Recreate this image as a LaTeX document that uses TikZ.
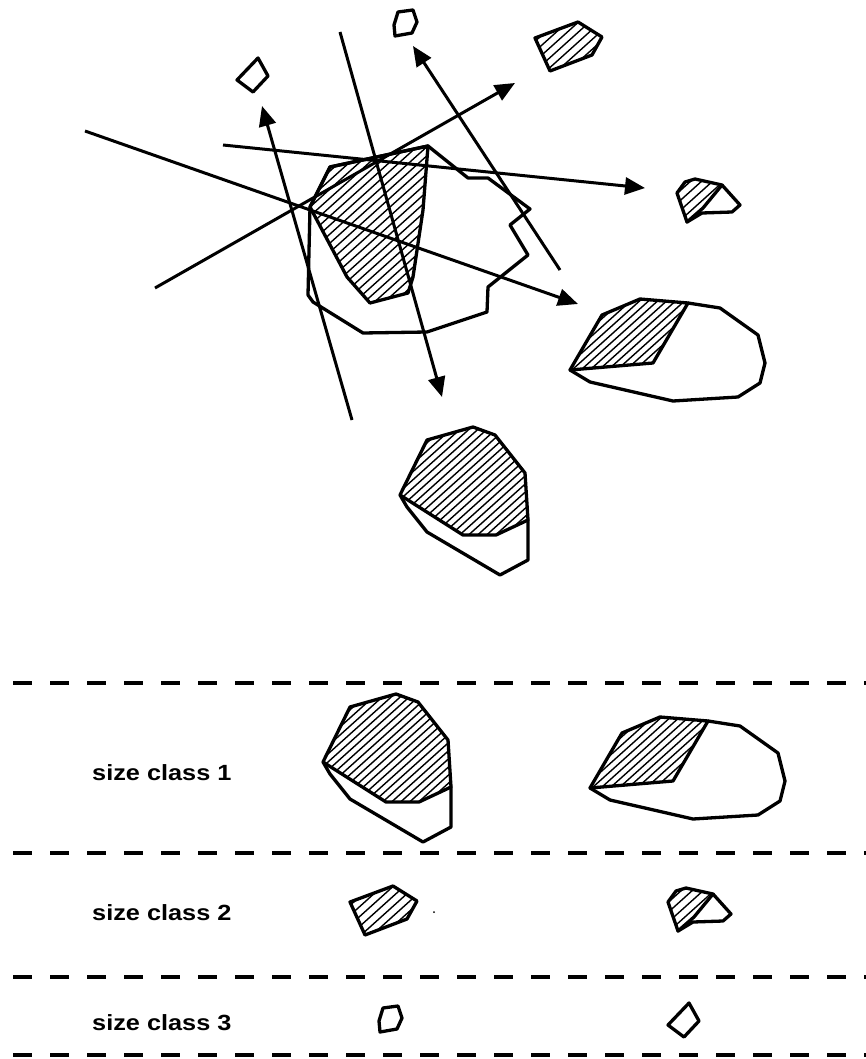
\documentclass[tikz,border=0pt]{standalone}
\usepackage{fontspec}
\usepackage{graphicx}
\setsansfont{Liberation Sans}
\usetikzlibrary{arrows.meta}
\tikzset{
  outline/.style={line width=3.3pt, line join=round, line cap=round},
  arrowline/.style={line width=3pt, -{Triangle[length=20pt,width=17pt]}},
  hatchline/.style={line width=1.4pt},
  divider/.style={line width=3.6pt, dash pattern=on 18.5pt off 18.5pt},
  classlabel/.style={anchor=base west, inner sep=0pt, font=\sffamily\bfseries\fontsize{22}{24}\selectfont}
}
% hatching of a closed polygon: #1 polygon path, #2 first, #3 second, #4 last offset
\newcommand\hatchin[4]{%
  \begin{scope}
    \clip #1;
    \foreach \c in {#2,#3,...,#4}{\draw[hatchline] (\c-1250,1125) -- (\c+60,-54);}
  \end{scope}}
% shapes
\newcommand\polyHP{(400,495) -- (427,440) -- (473,427) -- (495,435) -- (525,473) -- (528,520) -- (496,535) -- (463,535) -- cycle}
\newcommand\shapeP{%
  \hatchin{\polyHP}{874}{883}{1125}
  \draw[outline] \polyHP;
  \draw[outline] (400,495) -- (407,507) -- (427,532) -- (500,575) -- (528,560) -- (528,520);}
\newcommand\polyHQ{(570,370) -- (602,315) -- (640,299) -- (688,303) -- (653,363) -- cycle}
\newcommand\shapeQ{%
  \hatchin{\polyHQ}{902}{911}{1100}
  \draw[outline] \polyHQ;
  \draw[outline] (688,303) -- (720,308) -- (758,335) -- (765,363) -- (760,383) -- (738,397) -- (673,401) -- (590,382) -- (570,370);}
\newcommand\polyFiii{(535,38) -- (578,22) -- (602,37) -- (592,55) -- (550,71) -- cycle}
\newcommand\shapeFiii{%
  \hatchin{\polyFiii}{559}{570}{690}
  \draw[outline] \polyFiii;}
\newcommand\polyFiv{(677,193) -- (685,182) -- (695,179) -- (722,185) -- (703,208) -- (687,222) -- cycle}
\newcommand\shapeFiv{%
  \hatchin{\polyFiv}{870}{881}{980}
  \draw[outline] \polyFiv;
  \draw[outline] (722,185) -- (740,205) -- (732,212) -- (702,213) -- (687,222);}
\newcommand\shapeFii{\draw[outline] (398,12) -- (413,10) -- (417,22) -- (412,33) -- (395,36) -- (394,25) -- cycle;}
\newcommand\shapeFi{\draw[outline] (237,80) -- (258,58) -- (268,76) -- (253,92) -- cycle;}
\newcommand\polyHO{(330,167) -- (428,146) -- (423,210) -- (413,277) -- (408,293) -- (370,303) -- (347,277) -- (310,207) -- cycle}
\begin{document}
\begin{tikzpicture}[x=1pt,y=-1pt]
\useasboundingbox (0,0) rectangle (866,1059);
\fill[white] (0,0) rectangle (866,1059);

% central particle
\hatchin{\polyHO}{470}{480}{770}
\draw[outline] \polyHO;
\draw[outline] (310,207) -- (330,167) -- (428,146) -- (468,178) -- (488,178) -- (530,209) -- (510,225) -- (528,255) -- (488,287) -- (487,312) -- (427,332) -- (363,333) -- (313,302) -- (308,295) -- cycle;

% fracture lines and fragment trajectories
\coordinate (l1s) at (85,131);  \coordinate (l1e) at (578,304);
\coordinate (l2s) at (155,288); \coordinate (l2e) at (515,83);
\coordinate (l3s) at (223,145); \coordinate (l3e) at (645,188);
\coordinate (l4s) at (340,32);  \coordinate (l4e) at (442,397);
\coordinate (l5s) at (352,420); \coordinate (l5e) at (262,106);
\coordinate (l6s) at (560,270); \coordinate (l6e) at (413,46);
\draw[arrowline] (l1s) -- (l1e);
\draw[arrowline] (l2s) -- (l2e);
\draw[arrowline] (l3s) -- (l3e);
\draw[arrowline] (l4s) -- (l4e);
\draw[arrowline] (l5s) -- (l5e);
\draw[arrowline] (l6s) -- (l6e);

% fragments in the upper part
\shapeFi
\shapeFii
\shapeFiii
\shapeFiv
\shapeQ
\shapeP

% classification rows
\draw[divider] (13,683) -- (866,683);
\draw[divider] (13,853) -- (866,853);
\draw[divider] (13,977) -- (866,977);
\draw[divider] (13,1055) -- (866,1055);

\node[classlabel] (sc1) at (92,780) {\scalebox{1.15}[1]{size class 1}};
\node[classlabel] (sc2) at (92,920) {\scalebox{1.15}[1]{size class 2}};
\node[classlabel] (sc3) at (92,1030) {\scalebox{1.15}[1]{size class 3}};

\begin{scope}[shift={(-77,267)}]\shapeP\end{scope}
\begin{scope}[shift={(20,418)}]\shapeQ\end{scope}
\begin{scope}[shift={(-185,864)}]\shapeFiii\end{scope}
\begin{scope}[shift={(-9,709)}]\shapeFiv\end{scope}
\begin{scope}[shift={(-15,996)}]\shapeFii\end{scope}
\begin{scope}[shift={(431,945)}]\shapeFi\end{scope}
\fill (434,912) circle (1);
\end{tikzpicture}
\end{document}
